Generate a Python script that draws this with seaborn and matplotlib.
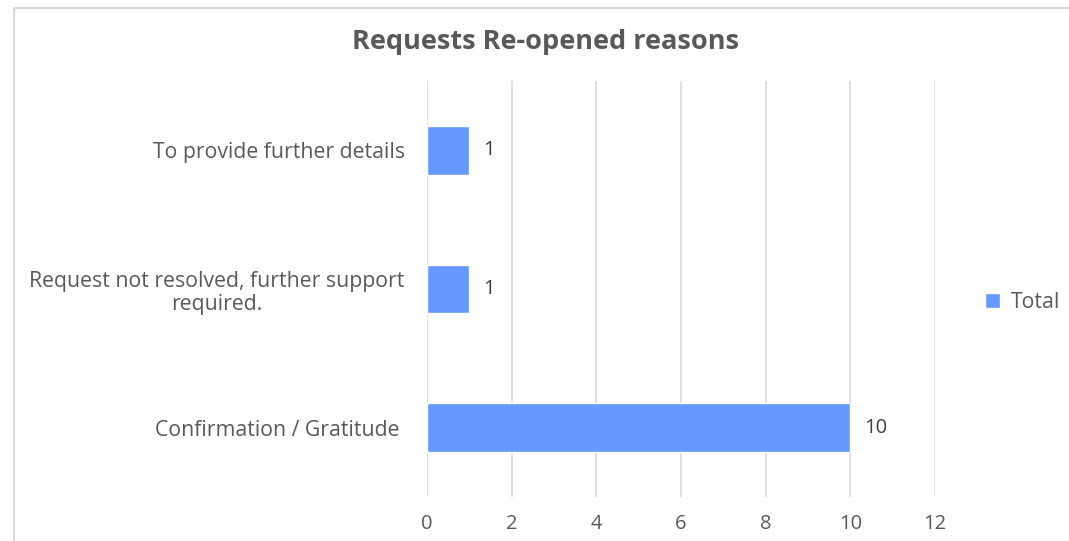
import matplotlib
matplotlib.use("Agg")
import matplotlib.pyplot as plt
import seaborn as sns
import pandas as pd
from matplotlib.lines import Line2D
from matplotlib.patches import Patch

categories = ["To provide further details",
              "Request not resolved, further support\nrequired.",
              "Confirmation / Gratitude "]
values = [1, 1, 10]
series_name = "Total"
x_ticks = [0, 2, 4, 6, 8, 10, 12]

df = pd.DataFrame({"Reason": categories, "Count": values})

sns.set_theme(style="white")
plt.rcParams["font.family"] = ["Open Sans", "DejaVu Sans"]

text_color = "#595959"
bar_color = "#6699FF"
grid_color = "#D9D9D9"
fs = 14.5
fs_lab = 15.3

fig = plt.figure(figsize=(10.69, 5.41), dpi=100)
ax = fig.add_axes([427/1069, 1 - 497/541, (935-427)/1069, (497-81)/541])

sns.barplot(data=df, y="Reason", x="Count", orient="h", color=bar_color,
            width=0.35, ax=ax, saturation=1)

ax.set_xlim(0, 12)
ax.set_ylim(2.5, -0.5)
ax.set_xticks(x_ticks)
ax.set_xticklabels([str(t) for t in x_ticks], color=text_color, fontsize=fs)
ax.set_yticks(range(len(categories)))
ax.set_yticklabels(categories, color=text_color, fontsize=fs_lab, ha="right",
                   multialignment="center", linespacing=1.15)
ax.tick_params(axis="y", pad=16, length=0)
ax.tick_params(axis="x", length=0, pad=12)
ax.set_xlabel("")
ax.set_ylabel("")
ax.grid(axis="x", color=grid_color, linewidth=1.2)
ax.set_axisbelow(True)
for s in ax.spines.values():
    s.set_visible(False)

for i, v in enumerate(values):
    ax.text(v + 0.33, i, str(v), va="center", ha="left", color="#404040", fontsize=fs)

fig.text(545/1069, 1 - 42/541, "Requests Re-opened reasons", ha="center", va="center",
         fontsize=19.5, fontweight="bold", color=text_color,
         family=["Open Sans", "DejaVu Sans"])

fig.legend(handles=[Patch(facecolor=bar_color, label=series_name)],
           loc="center left", bbox_to_anchor=(966/1069, 1 - 302/541),
           frameon=False, fontsize=15.3, handlelength=0.7, handleheight=0.7,
           handletextpad=0.5, labelcolor=text_color)

# chart frame
fig.add_artist(Line2D([14/1069, 14/1069], [0, 1 - 8/541], transform=fig.transFigure,
                      color="#D9D9D9", linewidth=1.5))
fig.add_artist(Line2D([14/1069, 1], [1 - 8/541, 1 - 8/541], transform=fig.transFigure,
                      color="#D9D9D9", linewidth=1.5))

fig.savefig("out.png", dpi=100)
